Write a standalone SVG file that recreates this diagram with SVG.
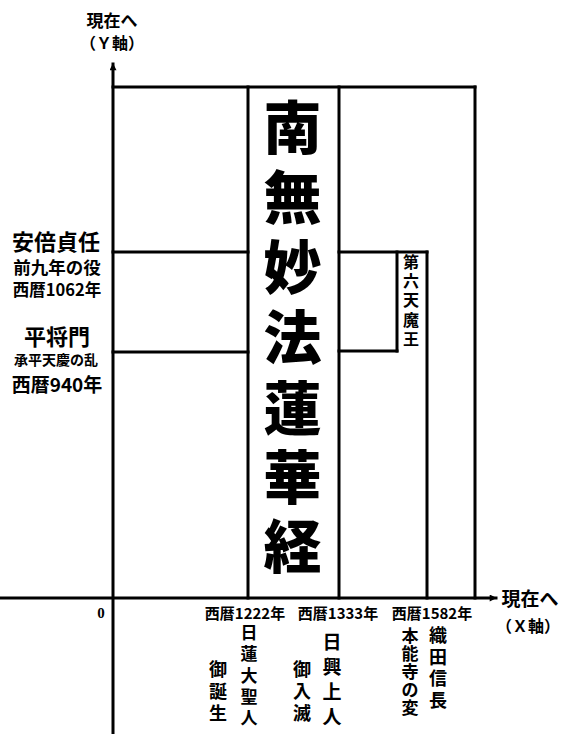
<svg xmlns="http://www.w3.org/2000/svg" width="566" height="734" viewBox="0 0 566 734">
<style>
  .ln { stroke:#000; stroke-width:3; fill:none; stroke-linecap:square; }
  text { font-family:"Noto Sans CJK JP","Noto Sans CJK SC",sans-serif; fill:#000; text-anchor:middle; dominant-baseline:central; font-weight:bold; }
  .big { font-size:58px; font-weight:900; }
</style>
<defs>
  <marker id="arr" viewBox="0 0 10 10" refX="9" refY="5" markerWidth="9" markerHeight="7" markerUnits="userSpaceOnUse" orient="auto">
    <path d="M0,0 L10,5 L0,10 Z" fill="#000"/>
  </marker>
</defs>
<rect x="0" y="0" width="566" height="734" fill="#fff"/>
<g id="connectors">
  <line class="ln" x1="113" y1="734" x2="113" y2="64" marker-end="url(#arr)"/>
  <line class="ln" x1="0" y1="598" x2="496" y2="598" marker-end="url(#arr)"/>
  <line class="ln" x1="113" y1="87" x2="475" y2="87"/>
  <line class="ln" x1="475" y1="87" x2="475" y2="598"/>
  <line class="ln" x1="248" y1="87" x2="248" y2="598"/>
  <line class="ln" x1="339" y1="87" x2="339" y2="598"/>
  <line class="ln" x1="113" y1="252" x2="248" y2="252"/>
  <line class="ln" x1="113" y1="352" x2="248" y2="352"/>
  <line class="ln" x1="339" y1="252" x2="427" y2="252"/>
  <line class="ln" x1="339" y1="351" x2="397" y2="351"/>
  <line class="ln" x1="397" y1="252" x2="397" y2="351"/>
  <line class="ln" x1="427" y1="252" x2="427" y2="598"/>
</g>
<g id="y-axis-label">
  <text x="112" y="19" font-size="17">現在へ</text>
  <text x="112" y="42" font-size="16">（Ｙ軸）</text>
</g>
<g id="x-axis-label">
  <text x="530" y="597" font-size="19">現在へ</text>
  <text x="528" y="625" font-size="16">（Ｘ軸）</text>
</g>
<g id="origin">
  <text x="101" y="613" font-size="15" font-weight="normal" style="font-family:'Liberation Serif',serif">0</text>
</g>
<g id="abe">
  <text x="56" y="240" font-size="22">安倍貞任</text>
  <text x="57" y="266" font-size="17.5">前九年の役</text>
  <text x="57" y="289" font-size="16.5">西暦1062年</text>
</g>
<g id="taira">
  <text x="57" y="335" font-size="22">平将門</text>
  <text x="56" y="359" font-size="14">承平天慶の乱</text>
  <text x="57" y="383" font-size="19">西暦940年</text>
</g>
<g id="daimoku">
  <text class="big" x="292.5" y="124">南</text>
  <text class="big" x="292.5" y="194">無</text>
  <text class="big" x="292.5" y="264">妙</text>
  <text class="big" x="292.5" y="334">法</text>
  <text class="big" x="292.5" y="405">蓮</text>
  <text class="big" x="292.5" y="474">華</text>
  <text class="big" x="292.5" y="543">経</text>
</g>
<g id="dairokuten">
  <text x="411" y="261" font-size="16">第</text>
  <text x="411" y="280" font-size="16">六</text>
  <text x="411" y="299" font-size="16">天</text>
  <text x="411" y="319" font-size="16">魔</text>
  <text x="411" y="338" font-size="16">王</text>
</g>
<g id="y1222">
  <text x="245" y="612" font-size="15">西暦1222年</text>
  <text x="249" y="631" font-size="17">日</text>
  <text x="249" y="652" font-size="17">蓮</text>
  <text x="249" y="674" font-size="17">大</text>
  <text x="249" y="695" font-size="17">聖</text>
  <text x="249" y="716" font-size="17">人</text>
  <text x="218" y="668" font-size="18">御</text>
  <text x="218" y="690" font-size="18">誕</text>
  <text x="218" y="712" font-size="18">生</text>
</g>
<g id="y1333">
  <text x="338" y="612" font-size="15">西暦1333年</text>
  <text x="332" y="640" font-size="19">日</text>
  <text x="332" y="665" font-size="19">興</text>
  <text x="332" y="690" font-size="19">上</text>
  <text x="332" y="715" font-size="19">人</text>
  <text x="302" y="668" font-size="18">御</text>
  <text x="302" y="690" font-size="18">入</text>
  <text x="302" y="712" font-size="18">滅</text>
</g>
<g id="y1582">
  <text x="432" y="612" font-size="15">西暦1582年</text>
  <text x="410" y="634" font-size="17">本</text>
  <text x="410" y="652" font-size="17">能</text>
  <text x="410" y="670" font-size="17">寺</text>
  <text x="410" y="688" font-size="17">の</text>
  <text x="410" y="706" font-size="17">変</text>
  <text x="438" y="634" font-size="18">織</text>
  <text x="438" y="656" font-size="18">田</text>
  <text x="438" y="677" font-size="18">信</text>
  <text x="438" y="699" font-size="18">長</text>
</g>
</svg>
